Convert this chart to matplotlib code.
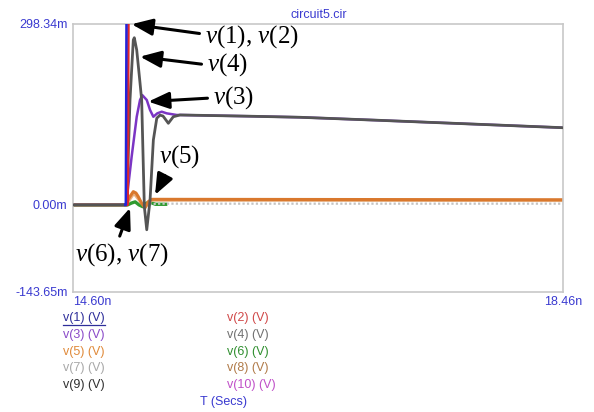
"""Transient response of circuit5.cir, node voltages v(1)..v(10)."""

import matplotlib

matplotlib.use("Agg")
import matplotlib.pyplot as plt
from matplotlib.lines import Line2D

plt.rcParams["font.family"] = ["Liberation Sans", "DejaVu Sans"]
plt.rcParams["mathtext.fontset"] = "custom"
plt.rcParams["mathtext.rm"] = "Liberation Serif"
plt.rcParams["mathtext.it"] = "Liberation Serif:italic"

BLUE_TXT = "#3a3ad0"

# time in ns, voltage in mV
T_MIN, T_MAX = 14.60, 18.46
V_MIN, V_MAX = -143.65, 298.34

t1 = [15.012, 15.016, 15.023, 18.46]
v1 = [0, 0, 400, 400]

t2 = [15.028, 15.031, 15.039, 18.46]
v2 = [0, 0, 400, 400]

t3 = [14.60, 15.018, 15.062, 15.102, 15.128, 15.146, 15.181, 15.207, 15.233,
      15.264, 15.299, 15.338, 15.417, 15.443, 16.0, 16.388, 17.0, 17.5, 18.0, 18.46]
v3 = [0, 0, 79.5, 145.4, 173, 181, 173, 156.5, 145.4,
      151, 153.7, 151, 148.3, 148.3, 146.2, 144.5, 139.6, 135.4, 131.2, 127.3]

t4 = [14.60, 15.023, 15.049, 15.075, 15.083, 15.102, 15.128, 15.141, 15.154,
      15.162, 15.181, 15.207, 15.233, 15.260, 15.285, 15.309, 15.351, 15.390,
      15.443, 16.0, 16.388, 17.0, 17.5, 18.0, 18.46]
v4 = [0, 0, 173, 272, 275.7, 255.4, 201, 173, 63,
      -3, -41, 8, 107, 143, 148, 146.6, 134.6, 145.4,
      148.3, 146.2, 144.5, 139.6, 135.4, 131.2, 127.3]

t5 = [14.60, 15.018, 15.041, 15.075, 15.096, 15.114, 15.141, 15.167, 15.193,
      15.220, 15.285, 18.46]
v5 = [0, 0, 11.4, 21.9, 19.6, 13.7, 2.6, -5, 5.4, 9.2, 9.2, 8.5]

t6 = [14.60, 15.03, 15.06, 15.09, 15.12, 15.15, 15.18, 15.21, 15.25, 15.33]
v6 = [0, 0, 3, 5, 0, -3, 3, 4, 1, 1]

t7 = [15.20, 15.26, 18.46]
v7 = [1, 2, 2]

t8 = [14.60, 15.02, 15.08, 15.14, 15.17, 15.22, 18.46]
v8 = [0, 0, 18, 2, -4, 7, 6.5]

legend_labels = ["v(1) (V)", "v(2) (V)", "v(3) (V)", "v(4) (V)", "v(5) (V)",
                 "v(6) (V)", "v(7) (V)", "v(8) (V)", "v(9) (V)", "v(10) (V)"]
legend_colors = ["#2e2e9a", "#d04848", "#8a4ac8", "#707070", "#e08a3a",
                 "#2f8f2f", "#a8a8a8", "#b07a48", "#303030", "#c050c8"]

fig = plt.figure(figsize=(5.94, 4.12), dpi=100)
ax = fig.add_axes([73 / 594, 1 - 292 / 412, 490 / 594, 268 / 412])

ax.plot(t6, v6, color="#2f9a2f", lw=2.4, zorder=2.2)
ax.plot(t7, v7, color="#c4c4c4", lw=1.6, ls=(0, (1, 1)), zorder=2.25)
ax.plot(t8, v8, color="#e8b080", lw=1.6, zorder=2.3)
ax.plot(t5, v5, color="#d9782d", lw=2.2, zorder=2.4)
ax.plot(t3, v3, color="#7b35c4", lw=1.8, zorder=2.5)
ax.plot(t4, v4, color="#555555", lw=2.0, zorder=2.6)
ax.plot(t2, v2, color="#e02828", lw=1.8, zorder=2.7)
ax.plot(t1, v1, color="#2424d8", lw=1.8, zorder=2.8)

ax.set_xlim(T_MIN, T_MAX)
ax.set_ylim(V_MIN, V_MAX)
for s in ax.spines.values():
    s.set_color("#c8c8c8")
    s.set_linewidth(1.2)

ax.set_yticks([V_MIN, 0, V_MAX])
ax.set_yticklabels([f"{v:.2f}m" for v in (V_MIN, 0, V_MAX)])
ax.set_xticks([T_MIN, T_MAX])
ax.set_xticklabels([f"{T_MIN:.2f}n", f"{T_MAX:.2f}n"])
ax.tick_params(axis="y", length=0, pad=4, labelsize=9, labelcolor=BLUE_TXT)
ax.tick_params(axis="x", length=0, pad=3, labelsize=9, labelcolor=BLUE_TXT)
xl = ax.get_xticklabels()
xl[0].set_ha("left")
xl[1].set_ha("center")

fig.text(319 / 594, 1 - 15 / 412, "circuit5.cir", color=BLUE_TXT,
         fontsize=9, ha="center", va="center")

# node callouts
arrow = dict(arrowstyle="-|>,head_length=0.7,head_width=0.28", color="black",
             lw=2.2, shrinkA=2, shrinkB=0)
serif = dict(fontsize=18, family="Liberation Serif", color="black")
callouts = [
    (r"$v$(1), $v$(2)", (15.062, 298.0), (15.64, 277.0), "left", (0, 0.6)),
    (r"$v$(4)", (15.128, 244.5), (15.656, 231.0), "left", (0, 0.5)),
    (r"$v$(3)", (15.193, 170.3), (15.703, 176.5), "left", (0, 0.5)),
    (r"$v$(5)", (15.246, 16.5), (15.443, 79.0), "center", (0.2, 0.0)),
    (r"$v$(6), $v$(7)", (15.049, -5.0), (14.982, -82.5), "center", (0.46, 1.0)),
]
for label, tip, pos, ha, rel in callouts:
    ax.annotate(label, xy=tip, xytext=pos, ha=ha, va="center",
                arrowprops=dict(arrow, relpos=rel), annotation_clip=False,
                zorder=5, **serif)

# trace list below the plot
rows = [318, 335, 352, 368, 385]
cols = [63, 227]
renderer = fig.canvas.get_renderer()
for i, (lab, col) in enumerate(zip(legend_labels, legend_colors)):
    x = cols[i % 2]
    y = rows[i // 2]
    txt = fig.text(x / 594, 1 - y / 412, lab, color=col, fontsize=9,
                   ha="left", va="center")
    if i == 0:
        bb = txt.get_window_extent(renderer)
        uy = bb.y0 / 412 - 0.002
        fig.add_artist(Line2D([bb.x0 / 594, bb.x1 / 594], [uy, uy],
                              color=col, lw=0.9))

fig.text(223 / 594, 1 - 402 / 412, "T (Secs)", color=BLUE_TXT, fontsize=9,
         ha="center", va="center")

fig.savefig("out.png", dpi=100)
